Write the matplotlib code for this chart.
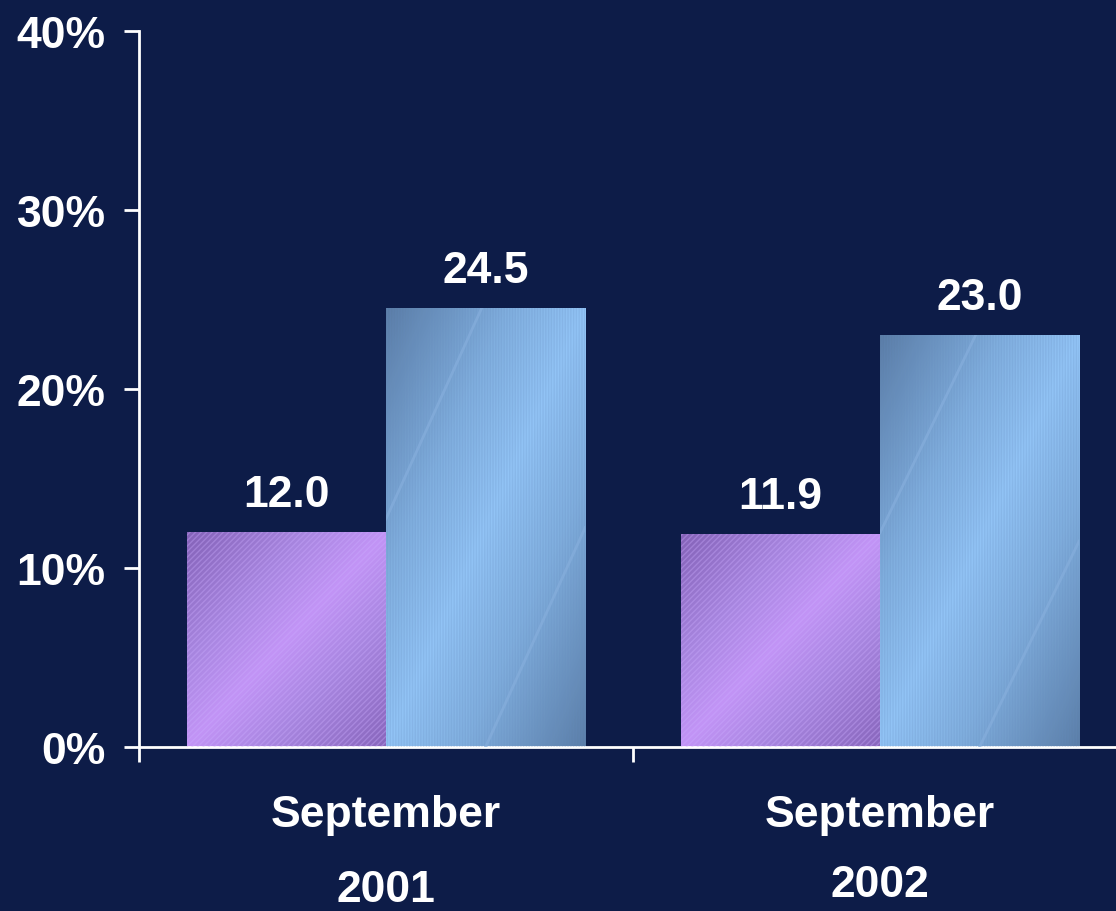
import numpy as np
import matplotlib
matplotlib.use("Agg")
import matplotlib.pyplot as plt
from matplotlib.colors import LinearSegmentedColormap

# data
group_names = ["September", "September"]
group_years = ["2001", "2002"]
series_a = [12.0, 11.9]   # purple
series_b = [24.5, 23.0]   # blue
labels_a = ["12.0", "11.9"]
labels_b = ["24.5", "23.0"]
yticks = [0, 10, 20, 30, 40]
ytick_labels = ["0%", "10%", "20%", "30%", "40%"]

BG = "#0D1C48"
plt.rcParams["font.family"] = ["Liberation Sans", "DejaVu Sans"]
plt.rcParams["font.weight"] = "bold"
plt.rcParams["hatch.linewidth"] = 1.0

fig = plt.figure(figsize=(11.16, 9.12), dpi=100, facecolor=BG)
# axes in pixel terms: left 139, right 1116, bottom 748 (from top), top 32
W, H = 1116, 912
ax = fig.add_axes([139 / W, (H - 748) / H, (1116 - 139) / W, (748 - 32) / H])
ax.set_facecolor(BG)

x = np.arange(len(series_a))
bw = 0.403
off_a = 0.097
pos_a = x + off_a
pos_b = x + off_a + bw

purple_cmap = LinearSegmentedColormap.from_list(
    "p", [(0, "#8462B8"), (0.3, "#A886E0"), (0.5, "#C294F6"), (0.7, "#A886E0"), (1, "#8866BC")])
blue_cmap = LinearSegmentedColormap.from_list(
    "b", [(0, "#5A7CA6"), (0.3, "#80AEDE"), (0.5, "#92C4F6"), (0.7, "#80AEDE"), (1, "#5B7EA8")])


def fill_bars(bars, cmap, hatch, hatch_color, streaks=False):
    for b in bars:
        x0, y0 = b.get_x(), b.get_y()
        w, h = b.get_width(), b.get_height()
        # diagonal gradient, light band from lower left to upper right
        gx, gy = np.meshgrid(np.linspace(0, 1, 200), np.linspace(0, 1, 200))
        grad = np.clip((gx - gy + 1) / 2, 0, 1)
        im = ax.imshow(grad, cmap=cmap, extent=[x0, x0 + w, y0, y0 + h],
                       origin="lower", aspect="auto", zorder=2.5)
        im.set_clip_path(b)
        ax.bar(x0, h, width=w, bottom=y0, align="edge", facecolor="none",
               edgecolor=hatch_color, hatch=hatch, linewidth=0, zorder=3)
        if streaks:
            # faint sheen lines parallel to the light band
            for c in (-0.52, 0.5):
                xs = np.array([max(0, c), min(1, 1 + c)])
                ys = xs - c
                ln, = ax.plot(x0 + xs * w, y0 + ys * h, color="#86AEDC",
                              lw=2, alpha=0.7, zorder=3.2)
                ln.set_clip_path(b)


bars_a = ax.bar(pos_a, series_a, width=bw, align="edge", color="#A582DC", zorder=2)
bars_b = ax.bar(pos_b, series_b, width=bw, align="edge", color="#85B0E0", zorder=2)
fill_bars(bars_a, purple_cmap, "//////", (0.8, 0.68, 1.0, 0.35))
fill_bars(bars_b, blue_cmap, "||||||", (0.4, 0.55, 0.75, 0.2), streaks=True)

for b, t in zip(list(bars_a) + list(bars_b), labels_a + labels_b):
    ax.text(b.get_x() + b.get_width() / 2, b.get_height() + 1.45, t,
            ha="center", va="baseline", color="white", fontsize=32, fontweight="bold")

ax.set_xticks([0, 1, 2])
ax.set_xticklabels([])
ax.set_xlim(0, (1116 - 139) / 494)
ax.set_ylim(0, 40)
ax.set_yticks(yticks)
ax.set_yticklabels(ytick_labels, color="white", fontsize=32, fontweight="bold")

for s in ["top", "right"]:
    ax.spines[s].set_visible(False)
for s in ["left", "bottom"]:
    ax.spines[s].set_color("white")
    ax.spines[s].set_linewidth(2)
ax.tick_params(axis="y", length=11, width=2, color="white", pad=13)
ax.tick_params(axis="x", length=11, width=2, color="white")

# category labels
for i in range(len(group_names)):
    ax.text(i + 0.5, -4.41, group_names[i], ha="center", va="baseline",
            color="white", fontsize=32, fontweight="bold")
ax.text(0.5, -8.6, group_years[0], ha="center", va="baseline",
        color="white", fontsize=32, fontweight="bold", clip_on=False)
ax.text(1.5, -8.32, group_years[1], ha="center", va="baseline",
        color="white", fontsize=32, fontweight="bold", clip_on=False)

fig.savefig("out.png", dpi=100, facecolor=BG)
